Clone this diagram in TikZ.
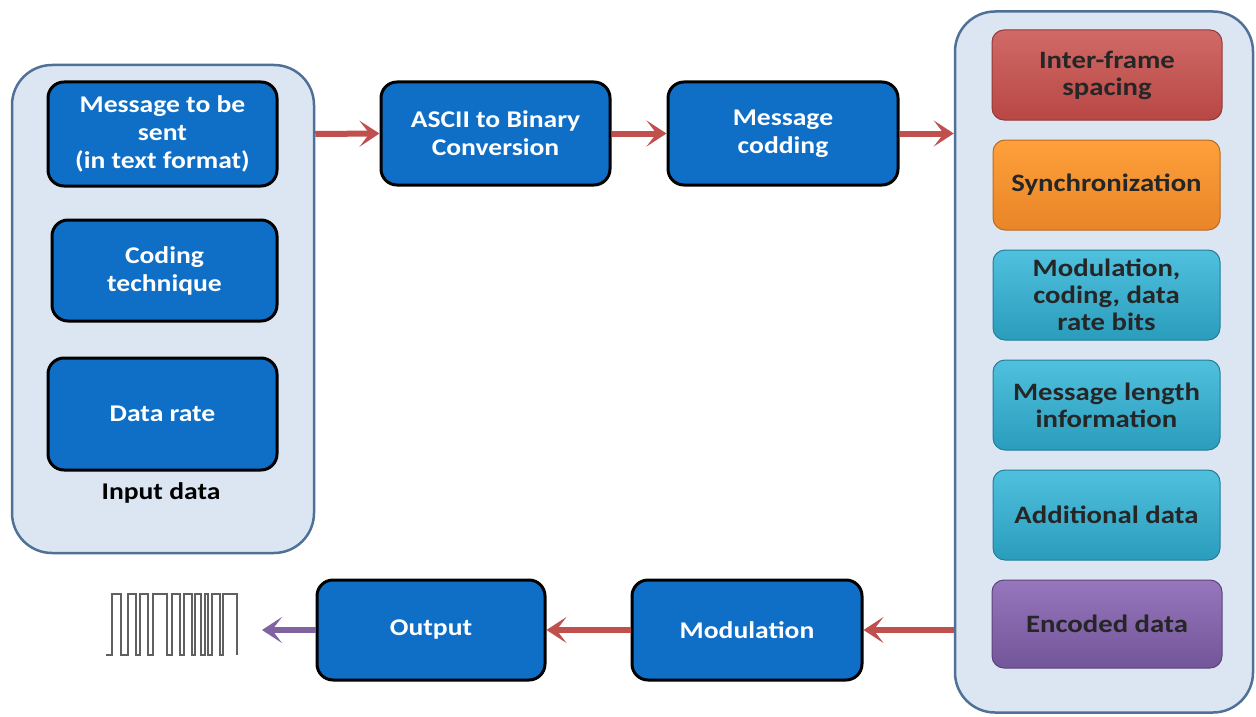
\documentclass[tikz,border=0pt]{standalone}
\usepackage{fontspec}
\setmainfont{Carlito}[FakeStretch=1.15]
\usetikzlibrary{arrows.meta}
\definecolor{contfill}{HTML}{DCE6F2}
\definecolor{contdraw}{HTML}{4F7198}
\definecolor{bluebox}{HTML}{0F6FC6}
\definecolor{arrred}{HTML}{C0504D}
\definecolor{redtop}{HTML}{D06A67}
\definecolor{redbot}{HTML}{B84744}
\definecolor{orgtop}{HTML}{FFA03A}
\definecolor{orgbot}{HTML}{E88528}
\definecolor{teatop}{HTML}{4FC0DE}
\definecolor{teabot}{HTML}{2B9DBC}
\definecolor{purtop}{HTML}{9676BC}
\definecolor{purbot}{HTML}{73559A}
\definecolor{arrpur}{HTML}{8064A2}
\tikzset{
  x=1pt, y=-1pt,
  container/.style={draw=contdraw, line width=2.5pt, fill=contfill, rounded corners=40pt},
  bluebox/.style={draw=black, line width=3pt, fill=bluebox, rounded corners=16pt, text=white,
    font=\fontsize{24}{28}\selectfont\bfseries, align=center, inner sep=0pt},
  grad/.style={rounded corners=12pt, font=\fontsize{25}{27}\selectfont\bfseries, align=center,
    text=black!85, inner sep=0pt, draw=#1bot!80!black, line width=1pt, top color=#1top, bottom color=#1bot},
  flow/.style={draw=arrred, line width=6pt, -{Stealth[length=20pt,width=26pt,inset=10pt]}},
  flowp/.style={draw=arrpur, line width=6pt, -{Stealth[length=20pt,width=26pt,inset=10pt]}},
}
\begin{document}
\begin{tikzpicture}
\useasboundingbox (0,0) rectangle (1256,717);
\fill[white] (0,0) rectangle (1256,717);
% containers
\node[container, minimum width=302pt, minimum height=488pt] (inp) at (163,309) {};
\node[container, minimum width=298pt, minimum height=701pt] (frame) at (1104,362) {};
% left boxes
\node[bluebox, minimum width=229pt, minimum height=104pt] (msg) at (162.5,134) {Message to be\\sent\\(in text format)};
\node[bluebox, minimum width=225pt, minimum height=101pt] (cod) at (164.5,270.5) {Coding\\technique};
\node[bluebox, minimum width=229pt, minimum height=112pt] (rate) at (162.5,414) {Data rate};
\node[font=\fontsize{24}{28}\selectfont\bfseries, text=black] (lbl) at (161,493) {Input data};
% top row
\node[bluebox, minimum width=229pt, minimum height=103pt] (ascii) at (495.5,133.5) {ASCII to Binary\\Conversion};
\node[bluebox, minimum width=230pt, minimum height=103pt] (mcod) at (783,133.5) {Message\\codding};
% right stack
\node[grad=red, minimum width=230pt, minimum height=90pt] (ifs) at (1107,75) {Inter-frame\\spacing};
\node[grad=org, minimum width=227pt, minimum height=90pt] (sync) at (1106.5,185) {Synchronization};
\node[grad=tea, minimum width=227pt, minimum height=90pt] (mod) at (1106.5,295) {Modulation,\\coding, data\\rate bits};
\node[grad=tea, minimum width=227pt, minimum height=90pt] (len) at (1106.5,405) {Message length\\information};
\node[grad=tea, minimum width=227pt, minimum height=90pt] (add) at (1106.5,515) {Additional data};
\node[grad=pur, minimum width=230pt, minimum height=88pt] (enc) at (1107,624) {Encoded data};
% bottom row
\node[bluebox, minimum width=230pt, minimum height=100pt] (modu) at (747,630) {Modulation};
\node[bluebox, minimum width=228pt, minimum height=100pt] (out) at (431,630) {Output};
% square wave
\draw[gray!75!black, line width=1.8pt, line join=miter]
  (106,655) -- (112,655) -- (112,594) -- (121,594) -- (121,655) -- (128,655) -- (128,594)
  -- (136,594) -- (136,655) -- (140,655) -- (140,594) -- (148,594) -- (148,655) -- (153,655)
  -- (153,594) -- (167,594) -- (167,655) -- (172,655) -- (172,594) -- (180,594) -- (180,655)
  -- (184,655) -- (184,594) -- (192,594) -- (192,655) -- (195,655) -- (195,594) -- (201,594)
  -- (201,655) -- (205,655) -- (205,594) -- (208,594) -- (208,655) -- (212,655) -- (212,594)
  -- (220,594) -- (220,655) -- (223,655) -- (223,594) -- (237,594) -- (237,655);
\coordinate (waveR) at (262,630);
% connectors
\draw[flow] (inp.east |- msg) -- (ascii.west);
\draw[flow] (ascii) -- (mcod);
\draw[flow] (mcod.east) -- (frame.west |- mcod);
\draw[flow] (frame.west |- modu) -- (modu.east);
\draw[flow] (modu) -- (out);
\draw[flowp] (out.west) -- (waveR);
\end{tikzpicture}
\end{document}
